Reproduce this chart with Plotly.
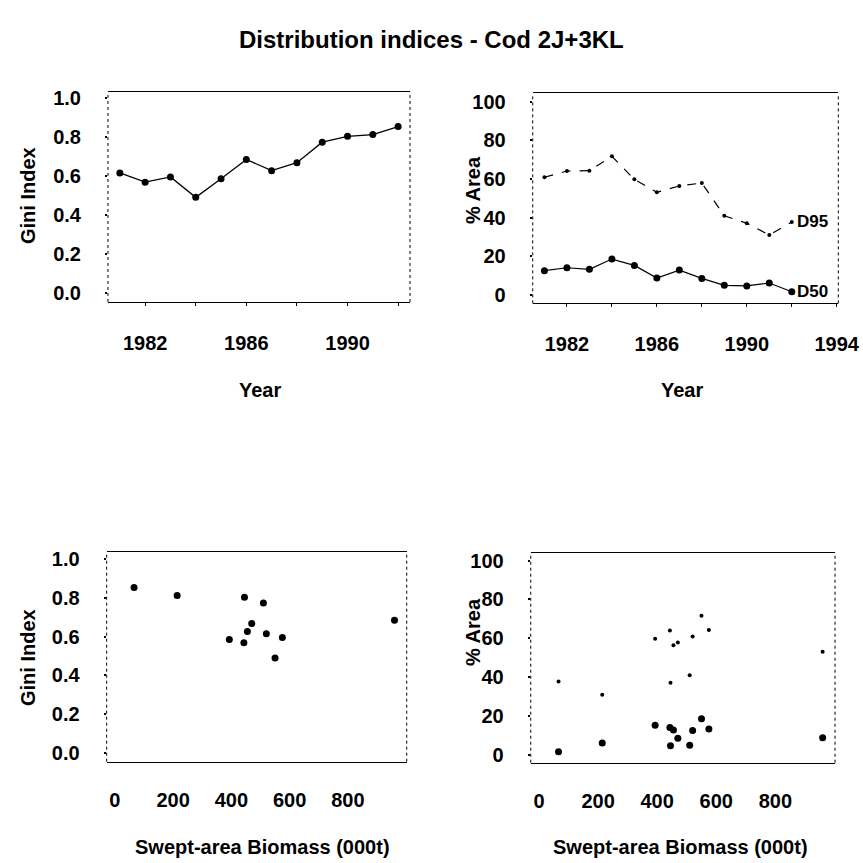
import plotly.graph_objects as go

# ---------------- data ----------------
years = [1981, 1982, 1983, 1984, 1985, 1986, 1987, 1988, 1989, 1990, 1991, 1992]
gini = [0.615, 0.568, 0.595, 0.490, 0.585, 0.684, 0.627, 0.668, 0.773, 0.803, 0.812, 0.853]
d95 = [60.9, 64.1, 64.3, 71.7, 59.8, 53.1, 56.4, 57.9, 41.0, 37.1, 31.0, 37.8]
d50 = [12.6, 14.1, 13.3, 18.6, 15.3, 8.8, 12.9, 8.6, 5.0, 4.7, 6.2, 1.7]
biomass = [520, 443, 575, 550, 393, 960, 455, 470, 510, 445, 214, 66]

title_text = "Distribution indices - Cod 2J+3KL"
year_ticks_left = [1982, 1986, 1990]
year_ticks_right = [1982, 1986, 1990, 1994]
biomass_ticks = [0, 200, 400, 600, 800]
gini_ticks = [0.0, 0.2, 0.4, 0.6, 0.8, 1.0]
area_ticks = [0, 20, 40, 60, 80, 100]

FONT = "Arial, Liberation Sans, sans-serif"
W = H = 863

fig = go.Figure()

# top-left: Gini vs year
fig.add_trace(go.Scatter(x=years, y=gini, mode="lines+markers", xaxis="x", yaxis="y",
                         line=dict(color="black", width=1.3),
                         marker=dict(color="black", size=7), showlegend=False))
# top-right: D95 and D50 vs year
fig.add_trace(go.Scatter(x=years, y=d95, mode="lines+markers", xaxis="x2", yaxis="y2",
                         line=dict(color="black", width=1.2, dash="dash"),
                         marker=dict(color="black", size=4), showlegend=False))
fig.add_trace(go.Scatter(x=years, y=d50, mode="lines+markers", xaxis="x2", yaxis="y2",
                         line=dict(color="black", width=1.2),
                         marker=dict(color="black", size=7), showlegend=False))
# bottom-left: Gini vs biomass
fig.add_trace(go.Scatter(x=biomass, y=gini, mode="markers", xaxis="x3", yaxis="y3",
                         marker=dict(color="black", size=7), showlegend=False))
# bottom-right: D95/D50 vs biomass
fig.add_trace(go.Scatter(x=biomass, y=d95, mode="markers", xaxis="x4", yaxis="y4",
                         marker=dict(color="black", size=4), showlegend=False))
fig.add_trace(go.Scatter(x=biomass, y=d50, mode="markers", xaxis="x4", yaxis="y4",
                         marker=dict(color="black", size=7), showlegend=False))

tickfont = dict(family=FONT, size=20, color="black", weight="bold")


def xax(domain, rng, tickvals, anchor, minor_dtick=None, tick0=None, ticks="outside"):
    d = dict(domain=domain, range=rng, tickvals=tickvals, showline=True, mirror=True,
             linecolor="black", linewidth=1.3, showgrid=False, zeroline=False,
             ticks=ticks, ticklen=3, tickcolor="black", tickwidth=1, anchor=anchor,
             tickfont=tickfont, ticklabelstandoff=20, fixedrange=True, automargin=False)
    if minor_dtick:
        d["minor"] = dict(dtick=minor_dtick, tick0=tick0, ticks="outside", ticklen=3,
                          tickcolor="black")
    return d


def yax(domain, rng, tickvals, fmt, anchor):
    return dict(domain=domain, range=rng, tickvals=tickvals, tickformat=fmt,
                showline=False, showgrid=False, zeroline=False, anchor=anchor,
                ticks="outside", ticklen=2, tickcolor="black", tickwidth=2,
                tickfont=tickfont, ticklabelstandoff=20, fixedrange=True, automargin=False)


fig.update_layout(
    width=W, height=H, margin=dict(l=0, r=0, t=0, b=0, autoexpand=False),
    paper_bgcolor="white", plot_bgcolor="white",
    xaxis=xax([0.1251, 0.4751], [1980.53, 1992.47], year_ticks_left, "y", 2, 1980),
    yaxis=yax([0.6501, 0.8934], [-0.046, 1.03], gini_ticks, ".1f", "x"),
    xaxis2=xax([0.6173, 0.9714], [1980.48, 1994.07], year_ticks_right, "y2", 2, 1980),
    yaxis2=yax([0.6485, 0.8919], [-4.3, 104.3], area_ticks, "d", "x2"),
    xaxis3=xax([0.1236, 0.4713], [-28, 1002], biomass_ticks, "y3", ticks=""),
    yaxis3=yax([0.1174, 0.3600], [-0.045, 1.035], gini_ticks, ".1f", "x3"),
    xaxis4=xax([0.6150, 0.9676], [-28, 1002], biomass_ticks, "y4", ticks=""),
    yaxis4=yax([0.1162, 0.3596], [-4.0, 104.1], area_ticks, "d", "x4"),
)

# dotted left / right frame edges
for xr, yr in [("x", "y"), ("x2", "y2"), ("x3", "y3"), ("x4", "y4")]:
    for xv in (0, 1):
        fig.add_shape(type="line", xref=f"{xr} domain", yref=f"{yr} domain",
                      x0=xv, x1=xv, y0=0, y1=1,
                      line=dict(color="black", width=1, dash="dot"))


def px_x(p):
    return p / W


def px_y(p):
    return 1 - p / H


titlefont = dict(family=FONT, size=20, color="black", weight="bold")
ann = [
    dict(text=title_text, x=px_x(431), y=px_y(40), font=dict(family=FONT, size=24, color="black", weight="bold")),
    dict(text="Gini Index", x=px_x(28), y=px_y(195), textangle=-90, font=titlefont),
    dict(text="% Area", x=px_x(473), y=px_y(190), textangle=-90, font=titlefont),
    dict(text="Gini Index", x=px_x(28), y=px_y(657), textangle=-90, font=titlefont),
    dict(text="% Area", x=px_x(473), y=px_y(632), textangle=-90, font=titlefont),
    dict(text="Year", x=px_x(260), y=px_y(390), font=titlefont),
    dict(text="Year", x=px_x(682), y=px_y(390), font=titlefont),
    dict(text="Swept-area Biomass (000t)", x=px_x(262), y=px_y(847), font=titlefont),
    dict(text="Swept-area Biomass (000t)", x=px_x(680), y=px_y(847), font=titlefont),
]
for a in ann:
    a.update(xref="paper", yref="paper", showarrow=False, xanchor="center", yanchor="middle")
    fig.add_annotation(**a)

labfont = dict(family=FONT, size=17, color="black", weight="bold")
fig.add_annotation(text="D95", x=years[-1], y=d95[-1], xref="x2", yref="y2",
                   showarrow=False, xanchor="left", yanchor="middle", xshift=3, font=labfont)
fig.add_annotation(text="D50", x=years[-1], y=d50[-1], xref="x2", yref="y2",
                   showarrow=False, xanchor="left", yanchor="middle", xshift=3, font=labfont)

fig.write_html("out.html")
